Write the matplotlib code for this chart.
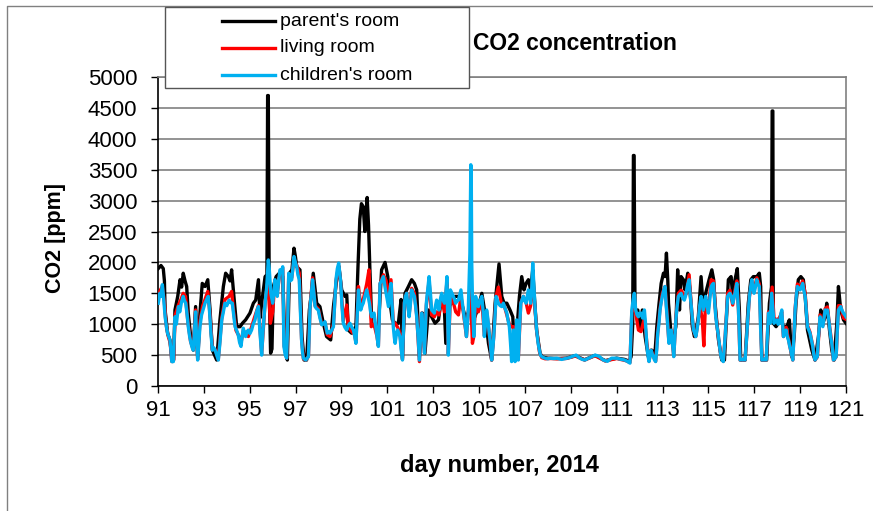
import matplotlib
matplotlib.use("Agg")
import matplotlib.pyplot as plt
from matplotlib.lines import Line2D
from matplotlib.patches import Rectangle

# (day number, CO2 ppm)
children_room = [
    (91.01, 1340), (91.08, 1500), (91.13, 1450), (91.19, 1640), (91.25, 1400), (91.31, 1120), (91.37, 950),
    (91.42, 850), (91.47, 800), (91.52, 745), (91.56, 600), (91.60, 395), (91.67, 395), (91.71, 800),
    (91.74, 1120), (91.80, 1000), (91.89, 1285), (91.95, 1200), (92.02, 1350), (92.10, 1450), (92.15, 1380),
    (92.21, 1340), (92.27, 1150), (92.32, 960), (92.38, 800), (92.44, 690), (92.49, 620), (92.54, 580),
    (92.59, 900), (92.64, 1200), (92.68, 800), (92.73, 420), (92.78, 700), (92.83, 960), (92.90, 1150),
    (92.98, 1250), (93.05, 1340), (93.12, 1400), (93.19, 1450), (93.23, 1300), (93.27, 1070), (93.32, 800),
    (93.37, 580), (93.43, 620), (93.49, 580), (93.56, 500), (93.63, 420), (93.70, 700), (93.78, 1070),
    (93.85, 1200), (93.92, 1340), (94.00, 1300), (94.10, 1390), (94.17, 1350), (94.24, 1340), (94.30, 1150),
    (94.36, 960), (94.43, 900), (94.50, 825), (94.56, 700), (94.62, 640), (94.67, 800), (94.72, 935),
    (94.77, 850), (94.82, 800), (94.88, 880), (94.94, 905), (95.01, 850), (95.08, 905), (95.15, 1000),
    (95.23, 1070), (95.30, 1200), (95.38, 1285), (95.44, 900), (95.52, 500), (95.58, 900), (95.67, 1340),
    (95.74, 1600), (95.81, 2040), (95.85, 1900), (95.92, 1500), (96.00, 1340), (96.05, 1500), (96.10, 1720),
    (96.15, 1550), (96.20, 1450), (96.26, 1700), (96.32, 1880), (96.38, 1850), (96.44, 1930), (96.47, 1200),
    (96.49, 640), (96.55, 500), (96.61, 450), (96.66, 1100), (96.70, 1825), (96.76, 1700), (96.83, 1720),
    (96.88, 1900), (96.93, 2095), (96.99, 2000), (97.05, 1930), (97.10, 1800), (97.16, 1720), (97.21, 1200),
    (97.26, 745), (97.30, 550), (97.34, 450), (97.40, 430), (97.45, 420), (97.50, 450), (97.56, 475),
    (97.60, 900), (97.63, 1285), (97.69, 1500), (97.74, 1720), (97.80, 1500), (97.85, 1285), (97.92, 1250),
    (97.99, 1230), (98.06, 1100), (98.14, 990), (98.20, 1000), (98.28, 1040), (98.33, 950), (98.38, 855),
    (98.44, 880), (98.50, 855), (98.57, 900), (98.65, 960), (98.70, 1300), (98.76, 1720), (98.82, 1900),
    (98.88, 1990), (98.93, 1800), (98.97, 1660), (99.02, 1300), (99.08, 1015), (99.15, 950), (99.23, 905),
    (99.30, 980), (99.37, 1015), (99.45, 950), (99.52, 905), (99.58, 800), (99.63, 690), (99.68, 1100),
    (99.74, 1555), (99.79, 1350), (99.84, 1230), (99.90, 1300), (99.95, 1340), (100.02, 1450), (100.10, 1555),
    (100.16, 1450), (100.22, 1340), (100.27, 1200), (100.32, 1120), (100.37, 1150), (100.42, 1180),
    (100.48, 1000), (100.55, 800), (100.61, 640), (100.65, 1100), (100.68, 1660), (100.75, 1700),
    (100.83, 1770), (100.90, 1600), (100.97, 1450), (101.05, 1285), (101.10, 1500), (101.16, 1660),
    (101.21, 1300), (101.26, 960), (101.30, 800), (101.34, 690), (101.40, 850), (101.45, 905), (101.50, 850),
    (101.55, 800), (101.60, 600), (101.66, 420), (101.70, 900), (101.74, 1340), (101.79, 1450), (101.84, 1500),
    (101.90, 1300), (101.95, 1120), (102.00, 1300), (102.06, 1555), (102.12, 1500), (102.18, 1450),
    (102.23, 1300), (102.28, 1120), (102.34, 800), (102.40, 420), (102.45, 800), (102.50, 1180), (102.56, 900),
    (102.62, 530), (102.66, 900), (102.70, 1340), (102.76, 1550), (102.82, 1770), (102.88, 1500),
    (102.93, 1230), (103.00, 1200), (103.05, 1180), (103.10, 1300), (103.15, 1390), (103.20, 1300),
    (103.25, 1230), (103.31, 1400), (103.37, 1500), (103.43, 1400), (103.49, 1340), (103.55, 1500),
    (103.60, 1770), (103.63, 1100), (103.66, 500), (103.70, 1000), (103.75, 1555), (103.82, 1500),
    (103.88, 1450), (103.93, 1400), (103.98, 1340), (104.04, 1380), (104.10, 1390), (104.16, 1480),
    (104.21, 1555), (104.27, 1350), (104.33, 1180), (104.39, 1000), (104.45, 800), (104.49, 1000),
    (104.53, 1230), (104.60, 2150), (104.64, 3580), (104.66, 3400), (104.68, 2000), (104.71, 1450),
    (104.74, 1100), (104.77, 800), (104.81, 1200), (104.85, 1450), (104.91, 1350), (104.97, 1285),
    (105.04, 1380), (105.12, 1450), (105.18, 1200), (105.23, 800), (105.28, 1000), (105.33, 1230),
    (105.38, 1100), (105.43, 905), (105.49, 700), (105.55, 420), (105.60, 600), (105.64, 800), (105.69, 1100),
    (105.74, 1450), (105.79, 1400), (105.84, 1340), (105.92, 1300), (105.99, 1285), (106.06, 1340),
    (106.14, 1250), (106.21, 1180), (106.27, 1050), (106.32, 960), (106.37, 700), (106.42, 395), (106.46, 700),
    (106.50, 905), (106.54, 600), (106.57, 395), (106.60, 800), (106.64, 1070), (106.68, 800), (106.71, 420),
    (106.76, 900), (106.82, 1340), (106.88, 1400), (106.93, 1450), (106.99, 1380), (107.05, 1340),
    (107.10, 1450), (107.15, 1555), (107.20, 1450), (107.25, 1340), (107.30, 1600), (107.34, 1990),
    (107.38, 1700), (107.43, 1340), (107.47, 1100), (107.51, 905), (107.57, 700), (107.63, 580), (107.68, 500),
    (107.73, 475), (107.80, 460), (107.88, 450), (108.00, 440), (108.10, 450), (108.25, 445), (108.39, 450),
    (108.50, 440), (108.60, 430), (108.72, 440), (108.82, 450), (108.95, 460), (109.04, 475), (109.15, 490),
    (109.23, 500), (109.32, 470), (109.40, 450), (109.50, 430), (109.62, 420), (109.72, 440), (109.84, 460),
    (109.95, 480), (110.06, 500), (110.15, 490), (110.25, 475), (110.35, 440), (110.42, 420), (110.50, 410),
    (110.60, 400), (110.70, 430), (110.78, 450), (110.90, 450), (111.00, 450), (111.10, 440), (111.22, 430),
    (111.35, 420), (111.48, 395), (111.58, 370), (111.62, 800), (111.66, 1230), (111.72, 1400), (111.77, 1500),
    (111.83, 1230), (111.89, 1150), (111.95, 1120), (112.00, 1180), (112.06, 1180), (112.13, 1100),
    (112.21, 1230), (112.26, 1000), (112.31, 690), (112.36, 500), (112.41, 395), (112.46, 500), (112.50, 580),
    (112.55, 520), (112.60, 475), (112.65, 420), (112.70, 395), (112.75, 600), (112.79, 855), (112.84, 1000),
    (112.89, 1230), (112.94, 1350), (112.99, 1450), (113.05, 1550), (113.11, 1610), (113.16, 1300),
    (113.20, 1120), (113.24, 900), (113.28, 690), (113.33, 800), (113.37, 905), (113.43, 700), (113.49, 475),
    (113.54, 800), (113.58, 1070), (113.64, 1300), (113.69, 1450), (113.75, 1480), (113.81, 1500),
    (113.88, 1420), (113.95, 1390), (114.00, 1450), (114.05, 1555), (114.10, 1650), (114.16, 1720),
    (114.20, 1500), (114.24, 1340), (114.30, 1100), (114.35, 905), (114.40, 850), (114.45, 800), (114.50, 900),
    (114.56, 1070), (114.62, 1300), (114.68, 1450), (114.73, 1350), (114.78, 1230), (114.83, 1350),
    (114.88, 1450), (114.94, 1300), (115.00, 1180), (115.06, 1400), (115.12, 1610), (115.17, 1640),
    (115.22, 1660), (115.27, 1400), (115.32, 1120), (115.38, 950), (115.44, 800), (115.50, 600), (115.55, 475),
    (115.60, 420), (115.65, 395), (115.69, 600), (115.73, 800), (115.78, 1100), (115.84, 1450), (115.89, 1480),
    (115.94, 1500), (116.00, 1450), (116.06, 1340), (116.11, 1420), (116.16, 1500), (116.20, 1580),
    (116.24, 1660), (116.28, 1400), (116.31, 1230), (116.35, 800), (116.38, 420), (116.44, 430), (116.50, 420),
    (116.55, 440), (116.60, 420), (116.67, 800), (116.72, 1100), (116.79, 1450), (116.84, 1600), (116.89, 1720),
    (116.94, 1600), (116.99, 1500), (117.05, 1600), (117.11, 1720), (117.16, 1650), (117.22, 1610),
    (117.27, 1000), (117.33, 420), (117.38, 430), (117.43, 420), (117.48, 440), (117.52, 420), (117.57, 800),
    (117.62, 1180), (117.66, 1100), (117.69, 1015), (117.73, 1300), (117.76, 1500), (117.80, 1300),
    (117.86, 1015), (117.92, 1050), (117.98, 1070), (118.04, 1000), (118.10, 1015), (118.15, 1150),
    (118.20, 1230), (118.24, 1000), (118.27, 800), (118.33, 850), (118.39, 905), (118.44, 800), (118.49, 745),
    (118.54, 650), (118.59, 580), (118.63, 500), (118.68, 420), (118.73, 800), (118.78, 1230), (118.83, 1450),
    (118.88, 1610), (118.94, 1580), (119.00, 1555), (119.05, 1600), (119.11, 1660), (119.16, 1550),
    (119.22, 1450), (119.27, 1200), (119.32, 960), (119.38, 900), (119.43, 855), (119.49, 750), (119.55, 640),
    (119.60, 500), (119.65, 420), (119.70, 450), (119.75, 475), (119.80, 800), (119.87, 1120), (119.93, 1000),
    (119.99, 960), (120.04, 1100), (120.09, 1230), (120.14, 1200), (120.19, 1230), (120.24, 1100),
    (120.28, 960), (120.33, 800), (120.38, 690), (120.42, 550), (120.45, 420), (120.51, 440), (120.57, 475),
    (120.62, 900), (120.67, 1230), (120.72, 1260), (120.77, 1285), (120.83, 1220), (120.89, 1180),
    (120.95, 1150), (121.00, 1120),
]

parent_room = [
    (91.01, 1900), (91.13, 1950), (91.23, 1900), (91.28, 1700), (91.31, 1230), (91.42, 850), (91.52, 745),
    (91.62, 395), (91.68, 420), (91.74, 1230), (91.86, 1450), (91.96, 1720), (92.03, 1600), (92.10, 1825),
    (92.18, 1700), (92.25, 1610), (92.32, 1180), (92.44, 745), (92.54, 580), (92.64, 1285), (92.73, 475),
    (92.83, 1180), (92.93, 1660), (93.05, 1610), (93.17, 1720), (93.27, 1230), (93.37, 580), (93.56, 420),
    (93.70, 1070), (93.85, 1610), (93.95, 1825), (94.07, 1770), (94.14, 1700), (94.21, 1880), (94.31, 1450),
    (94.43, 960), (94.58, 960), (94.68, 1015), (94.82, 1070), (95.01, 1180), (95.16, 1340), (95.26, 1390),
    (95.38, 1720), (95.45, 1100), (95.52, 1340), (95.67, 1770), (95.75, 1800), (95.78, 4700), (95.81, 4700),
    (95.85, 1500), (95.91, 530), (95.97, 600), (96.03, 1610), (96.15, 1770), (96.29, 1825), (96.44, 1770),
    (96.54, 580), (96.64, 420), (96.73, 1825), (96.84, 1880), (96.93, 2230), (96.99, 2100), (97.05, 1930),
    (97.19, 1880), (97.28, 800), (97.37, 420), (97.48, 420), (97.60, 1230), (97.69, 1500), (97.77, 1825),
    (97.92, 1340), (98.06, 1285), (98.21, 1015), (98.35, 800), (98.53, 745), (98.65, 1285), (98.79, 1720),
    (98.89, 1930), (99.01, 1555), (99.15, 1450), (99.23, 1475), (99.30, 905), (99.44, 855), (99.63, 960),
    (99.72, 1930), (99.80, 2700), (99.87, 2950), (99.95, 2900), (100.02, 2500), (100.07, 2800),
    (100.12, 3050), (100.18, 2600), (100.24, 1880), (100.32, 1015), (100.46, 960), (100.61, 960),
    (100.75, 1880), (100.90, 2000), (101.02, 1770), (101.12, 1340), (101.22, 1070), (101.34, 1015),
    (101.48, 1015), (101.60, 1400), (101.66, 450), (101.77, 1500), (101.92, 1610), (102.06, 1720),
    (102.18, 1660), (102.28, 1555), (102.40, 480), (102.53, 1180), (102.64, 530), (102.79, 1230),
    (102.93, 1120), (103.08, 1015), (103.23, 1070), (103.37, 1450), (103.49, 1230), (103.55, 690),
    (103.66, 1285), (103.81, 1340), (103.95, 1450), (104.10, 1450), (104.24, 1340), (104.39, 1120),
    (104.53, 1180), (104.71, 1340), (104.82, 1120), (104.97, 1285), (105.12, 1500), (105.26, 1180),
    (105.41, 690), (105.55, 420), (105.70, 1340), (105.87, 1975), (105.99, 1450), (106.09, 1340),
    (106.21, 1340), (106.35, 1230), (106.47, 1120), (106.57, 420), (106.67, 1015), (106.76, 1450),
    (106.86, 1770), (106.96, 1555), (107.05, 1660), (107.15, 1720), (107.25, 1555), (107.34, 1880),
    (107.43, 1340), (107.51, 905), (107.66, 530), (107.75, 470), (108.00, 450), (108.40, 445), (108.80, 450),
    (109.20, 490), (109.60, 425), (110.06, 495), (110.50, 410), (111.00, 450), (111.35, 430), (111.55, 400),
    (111.63, 475), (111.70, 1000), (111.73, 3730), (111.76, 3730), (111.80, 1230), (111.92, 1230),
    (112.02, 905), (112.12, 1230), (112.24, 800), (112.38, 475), (112.53, 580), (112.67, 530), (112.75, 960),
    (112.85, 1340), (112.94, 1660), (113.04, 1825), (113.11, 1770), (113.17, 2150), (113.23, 1700),
    (113.26, 1340), (113.37, 855), (113.47, 745), (113.58, 960), (113.66, 1880), (113.74, 1230),
    (113.81, 1770), (113.91, 1720), (113.98, 1555), (114.10, 1825), (114.20, 1555), (114.30, 960),
    (114.39, 800), (114.49, 960), (114.56, 1120), (114.68, 1770), (114.78, 1230), (114.88, 1500),
    (115.03, 1720), (115.15, 1880), (115.23, 1720), (115.29, 1340), (115.44, 745), (115.58, 420),
    (115.70, 420), (115.87, 1720), (115.99, 1770), (116.06, 1450), (116.16, 1720), (116.26, 1900),
    (116.35, 1230), (116.41, 420), (116.60, 420), (116.74, 1340), (116.85, 1720), (116.96, 1770),
    (117.11, 1770), (117.22, 1825), (117.28, 1610), (117.33, 420), (117.54, 420), (117.66, 1340),
    (117.75, 1600), (117.78, 4450), (117.81, 4450), (117.83, 1015), (117.95, 960), (118.05, 1015),
    (118.13, 1120), (118.27, 960), (118.42, 960), (118.53, 1070), (118.63, 475), (118.74, 800), (118.82, 1340),
    (118.92, 1720), (119.03, 1770), (119.14, 1720), (119.22, 1450), (119.32, 905), (119.51, 580),
    (119.65, 420), (119.80, 800), (119.90, 1230), (119.99, 1015), (120.09, 1120), (120.16, 1340),
    (120.28, 905), (120.38, 580), (120.48, 420), (120.60, 1015), (120.67, 1610), (120.77, 1230),
    (120.89, 1070), (121.00, 1015),
]

living_room = [
    (91.00, 1450), (91.10, 1550), (91.19, 1610), (91.28, 1350), (91.35, 1000), (91.45, 800), (91.53, 700),
    (91.60, 400), (91.68, 420), (91.75, 1150), (91.88, 1300), (92.00, 1400), (92.10, 1500), (92.20, 1450),
    (92.30, 1050), (92.42, 720), (92.54, 590), (92.64, 1230), (92.73, 430), (92.83, 1050), (92.95, 1300),
    (93.05, 1400), (93.17, 1530), (93.27, 1150), (93.37, 590), (93.50, 590), (93.63, 430), (93.78, 1100),
    (93.92, 1400), (94.10, 1450), (94.21, 1530), (94.30, 1200), (94.40, 900), (94.50, 830), (94.62, 700),
    (94.72, 900), (94.82, 850), (94.94, 800), (95.05, 920), (95.20, 1100), (95.38, 1300), (95.52, 520),
    (95.67, 1350), (95.80, 1700), (95.90, 1015), (96.00, 1200), (96.10, 1700), (96.20, 1500), (96.32, 1850),
    (96.44, 1900), (96.50, 650), (96.61, 450), (96.70, 1800), (96.83, 1750), (96.93, 2050), (97.05, 1950),
    (97.16, 1825), (97.26, 760), (97.34, 440), (97.45, 420), (97.56, 480), (97.63, 1280), (97.74, 1750),
    (97.85, 1300), (97.99, 1250), (98.14, 1000), (98.28, 1030), (98.38, 830), (98.50, 800), (98.65, 1000),
    (98.76, 1700), (98.88, 1950), (98.97, 1650), (99.08, 1050), (99.23, 1310), (99.30, 950), (99.45, 880),
    (99.58, 830), (99.63, 700), (99.74, 1610), (99.84, 1300), (99.95, 1400), (100.10, 1650), (100.20, 1880),
    (100.30, 960), (100.42, 1000), (100.55, 800), (100.61, 650), (100.68, 1650), (100.83, 1800),
    (100.95, 1700), (101.05, 1400), (101.16, 1720), (101.26, 1015), (101.34, 1015), (101.45, 950),
    (101.55, 850), (101.66, 430), (101.74, 1350), (101.84, 1500), (101.95, 1150), (102.06, 1580),
    (102.18, 1500), (102.28, 1150), (102.40, 395), (102.50, 1180), (102.62, 540), (102.70, 1300),
    (102.82, 1700), (102.93, 1150), (103.05, 1120), (103.15, 1200), (103.25, 1150), (103.37, 1450),
    (103.49, 1200), (103.60, 1700), (103.66, 520), (103.75, 1450), (103.88, 1350), (103.98, 1200),
    (104.10, 1150), (104.21, 1450), (104.33, 1150), (104.45, 800), (104.53, 1200), (104.62, 1600),
    (104.71, 690), (104.77, 800), (104.85, 1350), (104.97, 1200), (105.12, 1400), (105.23, 820),
    (105.33, 1200), (105.43, 900), (105.55, 420), (105.64, 800), (105.74, 1450), (105.84, 1600),
    (105.99, 1300), (106.10, 1300), (106.21, 1150), (106.32, 1000), (106.42, 960), (106.50, 960),
    (106.57, 420), (106.64, 1050), (106.71, 430), (106.82, 1350), (106.93, 1450), (107.05, 1350),
    (107.15, 1180), (107.25, 1300), (107.34, 1750), (107.43, 1300), (107.51, 900), (107.63, 560),
    (107.73, 460), (107.88, 440), (108.10, 445), (108.40, 440), (108.80, 445), (109.20, 485), (109.60, 420),
    (110.06, 490), (110.50, 405), (111.00, 445), (111.40, 410), (111.58, 380), (111.66, 1200), (111.77, 1300),
    (111.83, 1180), (111.95, 905), (112.06, 880), (112.21, 1100), (112.31, 720), (112.41, 400), (112.50, 580),
    (112.60, 480), (112.70, 400), (112.79, 860), (112.89, 1250), (112.99, 1500), (113.11, 1610),
    (113.20, 1150), (113.28, 700), (113.37, 900), (113.49, 480), (113.58, 1080), (113.69, 1500),
    (113.81, 1550), (113.95, 1450), (114.05, 1500), (114.16, 1800), (114.24, 1350), (114.35, 900),
    (114.45, 800), (114.56, 1070), (114.62, 1300), (114.73, 1100), (114.80, 650), (114.88, 1400),
    (115.00, 1250), (115.12, 1720), (115.22, 1700), (115.32, 1150), (115.44, 780), (115.55, 470),
    (115.65, 400), (115.73, 800), (115.84, 1500), (115.94, 1550), (116.06, 1310), (116.16, 1550),
    (116.24, 1700), (116.31, 1250), (116.38, 420), (116.60, 420), (116.67, 800), (116.79, 1450),
    (116.89, 1700), (116.99, 1550), (117.11, 1750), (117.22, 1650), (117.33, 420), (117.52, 420),
    (117.62, 1200), (117.69, 1100), (117.78, 1600), (117.86, 1100), (117.98, 1070), (118.10, 1100),
    (118.20, 1200), (118.27, 800), (118.39, 950), (118.49, 760), (118.59, 570), (118.68, 420), (118.78, 1250),
    (118.88, 1650), (119.00, 1600), (119.11, 1700), (119.22, 1500), (119.32, 980), (119.43, 870),
    (119.55, 650), (119.65, 420), (119.75, 470), (119.87, 1150), (119.99, 980), (120.09, 1250),
    (120.19, 1280), (120.28, 980), (120.38, 700), (120.45, 420), (120.57, 470), (120.67, 1300),
    (120.77, 1300), (120.89, 1100), (121.00, 1080),
]

series_labels = ["parent's room", "living room", "children's room"]
series_colors = ["#000000", "#FF0000", "#00B0F0"]
x_ticks = list(range(91, 122, 2))
y_ticks = list(range(0, 5001, 500))

plt.rcParams["font.family"] = ["Liberation Sans", "DejaVu Sans"]

fig = plt.figure(figsize=(8.73, 5.11), dpi=100)
ax = fig.add_axes([158 / 873, 1 - 386 / 511, 688 / 873, 309 / 511])

for pts, col in zip([parent_room, living_room, children_room], series_colors):
    xs = [p[0] for p in pts]
    ys = [p[1] for p in pts]
    ax.plot(xs, ys, color=col, lw=2.4, solid_joinstyle="round", zorder=3)

ax.set_xlim(91, 121)
ax.set_ylim(0, 5000)
ax.set_xticks(x_ticks)
ax.set_yticks(y_ticks)
ax.tick_params(axis="both", direction="out", length=5, width=1, labelsize=16, color="black")
ax.tick_params(axis="x", pad=5)
ax.tick_params(axis="y", pad=10)
ax.yaxis.grid(True, color="#808080", lw=1.2)
ax.set_axisbelow(True)
for s in ["top", "right"]:
    ax.spines[s].set_color("#808080")
    ax.spines[s].set_linewidth(1.2)
for s in ["left", "bottom"]:
    ax.spines[s].set_color("black")
    ax.spines[s].set_linewidth(1.2)

fig.text(55 / 873, 1 - 238 / 511, "CO2 [ppm]", rotation=90, fontsize=15.5, fontweight="bold",
         ha="center", va="center")
fig.text(499 / 873, 1 - 465 / 511, "day number, 2014", fontsize=17, fontweight="bold",
         ha="center", va="center")
fig.text(473 / 873, 1 - 44 / 511, "CO2 concentration", fontsize=16.5, fontweight="bold",
         ha="left", va="center")

# legend box drawn over the top of the plot
fig.add_artist(Rectangle((165 / 873, 1 - 88 / 511), 304 / 873, 81 / 511, transform=fig.transFigure,
                         facecolor="white", edgecolor="#555555", lw=1.0, zorder=5))
for i, (lab, col) in enumerate(zip(series_labels, series_colors)):
    yy = 1 - (21 + 27 * i) / 511
    fig.add_artist(Line2D([222 / 873, 275 / 873], [yy, yy], transform=fig.transFigure,
                          color=col, lw=2.4, zorder=6))
    fig.text(280 / 873, yy, lab, fontsize=14, ha="left", va="center", zorder=7)

# outer chart border (left and top edges visible)
fig.add_artist(Line2D([7 / 873, 7 / 873, 1.0], [0.0, 1 - 6 / 511, 1 - 6 / 511], transform=fig.transFigure,
                      color="#808080", lw=1.0))

fig.savefig("out.png", dpi=100)
